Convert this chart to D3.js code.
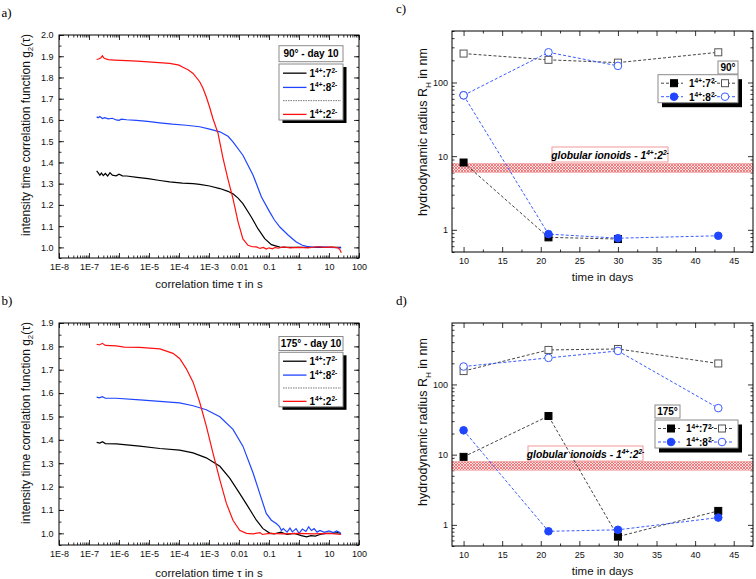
<!DOCTYPE html>
<html><head><meta charset="utf-8">
<script src="https://cdn.jsdelivr.net/npm/d3@7"></script>
<style>
html,body{margin:0;padding:0;background:#fff;}
svg{display:block;font-family:"Liberation Sans",Arial,sans-serif;}
</style></head><body>
<svg id="chart" width="756" height="579"></svg>
<script>
// ---------- DATA ----------
const tauTicks = [1e-8,1e-7,1e-6,1e-5,1e-4,1e-3,0.01,0.1,1,10,100];
const tauTickLabels = ["1E-8","1E-7","1E-6","1E-5","1E-4","1E-3","0.01","0.1","1","10","100"];
const g2TicksA = [1.0,1.1,1.2,1.3,1.4,1.5,1.6,1.7,1.8,1.9,2.0];
const g2TicksB = [1.0,1.1,1.2,1.3,1.4,1.5,1.6,1.7,1.8,1.9];
const dayTicks = [10,15,20,25,30,35,40,45];
const rhTicks = [1,10,100];
const rhTickLabels = ["1","10","100"];

// panel a (90°, day 10): [tau in s, g2]
const a_1_7 = [[1.8e-7,1.36],[2.0e-7,1.352],[2.3e-7,1.34],[2.6e-7,1.35],[3.0e-7,1.338],[3.5e-7,1.348],[4.2e-7,1.336],[5.0e-7,1.352],[6.0e-7,1.34],[8.0e-7,1.337],[1.0e-6,1.345],[1.3e-6,1.337],[1.8e-6,1.336],[4e-6,1.33],[9.3e-6,1.324],[2.3e-5,1.315],[4.9e-5,1.308],[1.3e-4,1.303],[2.95e-4,1.30],[4.9e-4,1.297],[1.05e-3,1.289],[2.3e-3,1.277],[4.3e-3,1.264],[6.3e-3,1.252],[9.3e-3,1.232],[0.0135,1.206],[0.0257,1.143],[0.0427,1.088],[0.072,1.041],[0.12,1.013],[0.23,1.001],[0.5,1.0],[1,1.0],[3,1.0],[10,1.0],[25,1.0]];
const a_1_8 = [[1.8e-7,1.615],[2.0e-7,1.61],[2.3e-7,1.616],[2.8e-7,1.607],[3.3e-7,1.611],[4.4e-7,1.605],[6e-7,1.608],[8.1e-7,1.6],[1.0e-6,1.598],[1.2e-6,1.604],[1.8e-6,1.601],[3.8e-6,1.598],[9e-6,1.593],[2.3e-5,1.586],[6e-5,1.58],[1.74e-4,1.575],[4.9e-4,1.568],[1.05e-3,1.557],[2.3e-3,1.544],[4.3e-3,1.523],[6.3e-3,1.497],[0.0135,1.434],[0.0295,1.34],[0.056,1.237],[0.105,1.167],[0.15,1.13],[0.23,1.096],[0.44,1.057],[0.81,1.025],[1.3,1.01],[1.8,1.005],[3,1.0],[5,1.003],[10,1.0],[20,0.999],[25.7,0.997]];
const a_1_2 = [[1.8e-7,1.885],[2.1e-7,1.887],[2.5e-7,1.893],[2.8e-7,1.902],[3.2e-7,1.89],[4.4e-7,1.884],[7e-7,1.882],[1.8e-6,1.879],[4e-6,1.877],[9.3e-6,1.873],[4.9e-5,1.866],[1.0e-4,1.858],[1.35e-4,1.848],[2.0e-4,1.836],[2.95e-4,1.819],[4.9e-4,1.78],[6.3e-4,1.749],[8.1e-4,1.709],[1.05e-3,1.66],[1.35e-3,1.607],[2.0e-3,1.537],[2.95e-3,1.418],[4.3e-3,1.32],[6.3e-3,1.23],[9.3e-3,1.12],[0.0135,1.04],[0.02,1.01],[0.028,1.003],[0.038,1.002],[0.05,0.995],[0.065,1.0],[0.081,0.992],[0.1,0.998],[0.13,0.993],[0.16,1.0],[0.2,0.996],[0.3,1.002],[0.5,0.998],[1,1.0],[2,0.998],[4,1.003],[7,1.0],[12,1.002],[20,0.998],[23,0.99],[25.7,0.975]];

// panel b (175°, day 10)
const b_1_7 = [[1.8e-7,1.389],[2.3e-7,1.386],[2.8e-7,1.392],[3.5e-7,1.384],[8.1e-7,1.383],[4.9e-6,1.373],[2.3e-5,1.363],[1.05e-4,1.356],[2.95e-4,1.344],[8.1e-4,1.323],[2.3e-3,1.287],[4.9e-3,1.236],[0.0105,1.171],[0.02,1.114],[0.038,1.056],[0.063,1.02],[0.105,1.001],[0.15,0.998],[0.25,1.005],[0.4,0.995],[0.7,1.0],[1.2,0.99],[1.8,0.985],[2.5,0.99],[3.5,0.988],[5,0.995],[8,1.0],[12,1.0],[20,1.003],[25,1.0]];
const b_1_8 = [[1.8e-7,1.583],[2.2e-7,1.58],[2.8e-7,1.585],[3.5e-7,1.578],[8.1e-7,1.578],[4.9e-6,1.571],[2.3e-5,1.565],[1.05e-4,1.558],[2.95e-4,1.546],[8.1e-4,1.529],[2.3e-3,1.499],[6.3e-3,1.445],[0.0135,1.373],[0.0295,1.258],[0.049,1.171],[0.081,1.085],[0.12,1.056],[0.178,1.041],[0.22,1.03],[0.26,1.012],[0.3,1.02],[0.4,1.005],[0.5,1.022],[0.6,1.006],[0.8,1.02],[1,1.0],[1.3,1.018],[1.7,1.008],[2.1,1.028],[2.6,1.012],[3.2,1.02],[4,1.005],[5,1.012],[7,1.004],[10,1.01],[14,1.003],[18,1.01],[22,1.005],[25,0.995]];
const b_1_2 = [[1.8e-7,1.809],[2.2e-7,1.806],[2.8e-7,1.813],[3.5e-7,1.804],[8.1e-7,1.802],[1.5e-6,1.797],[4.9e-6,1.796],[2.3e-5,1.789],[6.3e-5,1.77],[1.05e-4,1.748],[1.74e-4,1.705],[2.95e-4,1.647],[4.9e-4,1.561],[8.1e-4,1.46],[1.35e-3,1.344],[2.3e-3,1.229],[3.8e-3,1.128],[6.3e-3,1.056],[0.0105,1.013],[0.0178,1.0],[0.03,0.998],[0.05,1.003],[0.06,0.995],[0.1,1.0],[0.3,0.998],[1,1.0],[3,0.998],[10,1.0],[25,0.995]];

// panels c, d : hydrodynamic radius (nm) vs days
const days = [10,21,30,43];
const c_77_large = [247,203,186,257];
const c_77_small = [8.2,0.79,0.75,null];
const c_78_large = [67,257,168,null];
const c_78_small = [67,0.875,0.77,0.83];
const d_77_large = [155,310,320,199];
const d_77_small = [9.3,35.5,0.68,1.58];
const d_78_large = [180,239,300,46];
const d_78_small = [22.2,0.81,0.85,1.27];
const ionoidBand = [6.0,8.0];

const legendCurves = [["1","4+",":7","2-"],["1","4+",":8","2-"],null,["1","4+",":2","2-"]];
const legendRH = [["1","4+",":7","2-"],["1","4+",":8","2-"]];
const bandLabel = ["globular ionoids - 1","4+",":2","2-"];

// ---------- DRAW ----------
const FONT = "'Liberation Sans',Arial,sans-serif";
const svg = d3.select("#chart");
const defs = svg.append("defs");
const pat = defs.append("pattern").attr("id","hatch").attr("patternUnits","userSpaceOnUse").attr("width",3).attr("height",3);
pat.append("rect").attr("width",3).attr("height",3).attr("fill","#fcdede");
pat.append("path").attr("d","M0,0L3,3M3,0L0,3").attr("stroke","#e8585c").attr("stroke-width",0.7);

function addAxis(axisFn, scale, transform, vals, size, fmt, pad){
  const a = axisFn(scale).tickValues(vals).tickSize(size).tickPadding(pad||3).tickFormat(fmt || (()=>""));
  const s = svg.append("g").attr("transform", transform).call(a);
  s.select(".domain").remove();
  s.selectAll("line").attr("stroke","#000").attr("stroke-width",0.8);
  s.selectAll("text").attr("font-size",9).attr("font-family",FONT).attr("fill","#111");
  return s;
}
function richText(sel, parts, base, supSize){
  parts.forEach((p,i)=>{
    const sup = i%2===1;
    const t = sel.append("tspan").text(p);
    if(sup){ t.attr("font-size",supSize).attr("dy",-base*0.38); }
    else if(i>0){ t.attr("dy",base*0.38); }
  });
}
function frame(x,y){
  const [x0,x1]=x.range(), [yb,yt]=y.range();
  svg.append("rect").attr("x",x0).attr("y",yt).attr("width",x1-x0).attr("height",yb-yt)
    .attr("fill","none").attr("stroke","#000").attr("stroke-width",1);
}
function logMinors(lo,hi){
  const out=[];
  for(let e=Math.floor(Math.log10(lo));e<=Math.ceil(Math.log10(hi));e++){
    for(let k=2;k<=9;k++){const v=k*Math.pow(10,e); if(v>=lo*0.999&&v<=hi*1.001) out.push(v);}
  }
  return out;
}

function curvePanel(o){
  const x = d3.scaleLog().domain([1e-8,100]).range([59,359]);
  const y = d3.scaleLinear().domain(o.yDom).range([o.bottom,o.top]);
  const xMin = logMinors(1e-8,100);
  const yMin = d3.range(o.yDom[0], o.yDom[1]+1e-9, 0.05).map(v=>+v.toFixed(2));
  addAxis(d3.axisBottom,x,`translate(0,${o.bottom})`,tauTicks,-5,(d,i)=>tauTickLabels[i],6);
  addAxis(d3.axisBottom,x,`translate(0,${o.bottom})`,xMin,-2.5);
  addAxis(d3.axisTop,x,`translate(0,${o.top})`,tauTicks,-5);
  addAxis(d3.axisTop,x,`translate(0,${o.top})`,xMin,-2.5);
  addAxis(d3.axisLeft,y,`translate(59,0)`,o.yTicks,-5,d=>d.toFixed(1),5.5);
  addAxis(d3.axisLeft,y,`translate(59,0)`,yMin,-2.5);
  addAxis(d3.axisRight,y,`translate(359,0)`,o.yTicks,-5);
  addAxis(d3.axisRight,y,`translate(359,0)`,yMin,-2.5);
  const line = d3.line().x(d=>x(d[0])).y(d=>y(d[1]));
  [[o.s17,"#000"],[o.s18,"#1f45ff"],[o.s12,"#ff1010"]].forEach(([s,c])=>{
    svg.append("path").datum(s).attr("d",line).attr("fill","none").attr("stroke",c).attr("stroke-width",1.2);
  });
  frame(x,y);
  // legend
  const L=279, W=64;
  svg.append("rect").attr("x",L).attr("y",o.tY).attr("width",W).attr("height",o.tH).attr("fill","#fff").attr("stroke","#8a8a8a");
  svg.append("text").attr("x",L+W/2).attr("y",o.tY+o.tH/2+3.6).attr("text-anchor","middle").attr("font-weight","bold").attr("font-size",10).text(o.title);
  svg.append("rect").attr("x",L+3.5).attr("y",o.lY+3).attr("width",W).attr("height",o.lH).attr("fill","#000");
  svg.append("rect").attr("x",L).attr("y",o.lY).attr("width",W).attr("height",o.lH).attr("fill","#fff").attr("stroke","#8a8a8a");
  const rows=[9,23,36,49.5], cols=["#000","#1f45ff",null,"#ff1010"];
  legendCurves.forEach((lab,i)=>{
    const ry=o.lY+rows[i]*(o.lH/55);
    if(lab===null){
      svg.append("line").attr("x1",L+4).attr("x2",L+62).attr("y1",ry).attr("y2",ry).attr("stroke","#777").attr("stroke-dasharray","1.5,1").attr("stroke-width",1);
      return;
    }
    svg.append("line").attr("x1",L+4).attr("x2",L+27.5).attr("y1",ry).attr("y2",ry).attr("stroke",cols[i]).attr("stroke-width",1.3);
    const t=svg.append("text").attr("x",L+30.5).attr("y",ry+3.8).attr("font-weight","bold").attr("font-size",10);
    richText(t,lab,10,6.5);
  });
}

function rhPanel(o){
  const x = d3.scaleLinear().domain([8.5,47.5]).range([452,753]);
  const y = d3.scaleLog().domain(o.yDom).range([o.bottom,o.top]);
  const xMin = [12.5,17.5,22.5,27.5,32.5,37.5,42.5];
  const yMin = logMinors(o.yDom[0],o.yDom[1]).filter(v=>![1,10,100].includes(v));
  addAxis(d3.axisBottom,x,`translate(0,${o.bottom})`,dayTicks,-5,d=>d,6);
  addAxis(d3.axisBottom,x,`translate(0,${o.bottom})`,xMin,-2.5);
  addAxis(d3.axisTop,x,`translate(0,${o.top})`,dayTicks,-5);
  addAxis(d3.axisTop,x,`translate(0,${o.top})`,xMin,-2.5);
  addAxis(d3.axisLeft,y,`translate(452,0)`,rhTicks,-5,(d,i)=>rhTickLabels[i],4);
  addAxis(d3.axisLeft,y,`translate(452,0)`,yMin,-2.5);
  addAxis(d3.axisRight,y,`translate(753,0)`,rhTicks,-5);
  addAxis(d3.axisRight,y,`translate(753,0)`,yMin,-2.5);
  // band
  svg.append("rect").attr("x",452).attr("width",301).attr("y",y(ionoidBand[1])).attr("height",y(ionoidBand[0])-y(ionoidBand[1]))
    .attr("fill","url(#hatch)").attr("stroke","#f3a0a0").attr("stroke-width",0.6);
  svg.append("rect").attr("x",o.bx).attr("y",o.by).attr("width",o.bw).attr("height",15).attr("fill","#fff").attr("stroke","#f29a9a");
  const bt=svg.append("text").attr("x",o.bx+o.bw/2).attr("y",o.by+11.5).attr("text-anchor","middle").attr("font-weight","bold").attr("font-style","italic").attr("font-size",10.3);
  richText(bt,bandLabel,10.3,6.6);
  // series
  const ser = [
    {v:o.s77L,c:"#444",m:"sq",f:false},{v:o.s77S,c:"#444",m:"sq",f:true},
    {v:o.s78L,c:"#3a5cff",m:"ci",f:false},{v:o.s78S,c:"#3a5cff",m:"ci",f:true}];
  const pts = v=>days.map((d,i)=>[d,v[i]]);
  const line = d3.line().defined(d=>d[1]!=null).x(d=>x(d[0])).y(d=>y(d[1]));
  ser.forEach(s=>svg.append("path").datum(pts(s.v)).attr("d",line).attr("fill","none").attr("stroke",s.c).attr("stroke-width",1).attr("stroke-dasharray","3,2"));
  const marker=(g,m,f,cx,cy)=>{
    if(m==="sq") g.append("rect").attr("x",cx-3.5).attr("y",cy-3.5).attr("width",7).attr("height",7)
      .attr("fill",f?"#000":"#fff").attr("stroke",f?"#000":"#555").attr("stroke-width",1);
    else g.append("circle").attr("cx",cx).attr("cy",cy).attr("r",3.8)
      .attr("fill",f?"#1f45ff":"#fff").attr("stroke",f?"#1f45ff":"#3a5cff").attr("stroke-width",1);
  };
  [ser[1],ser[3],ser[0],ser[2]].forEach(s=>pts(s.v).filter(d=>d[1]!=null).forEach(d=>marker(svg,s.m,s.f,x(d[0]),y(d[1]))));
  frame(x,y);
  // legend
  svg.append("rect").attr("x",o.tX).attr("y",o.tY).attr("width",o.tW).attr("height",13).attr("fill","#fff").attr("stroke","#8a8a8a");
  svg.append("text").attr("x",o.tX+o.tW/2).attr("y",o.tY+10.3).attr("text-anchor","middle").attr("font-weight","bold").attr("font-size",10).text(o.title);
  const L=o.lX, W=o.lW;
  svg.append("rect").attr("x",L+4).attr("y",o.lY+4.5).attr("width",W).attr("height",28).attr("fill","#000");
  svg.append("rect").attr("x",L).attr("y",o.lY).attr("width",W).attr("height",28).attr("fill","#fff").attr("stroke","#8a8a8a");
  legendRH.forEach((lab,i)=>{
    const ry=o.lY+(i?22:8.5);
    const c=i?"#3a5cff":"#444";
    svg.append("line").attr("x1",L+3).attr("x2",L+25).attr("y1",ry).attr("y2",ry).attr("stroke",c).attr("stroke-dasharray","3,2");
    svg.append("line").attr("x1",L+54).attr("x2",L+77).attr("y1",ry).attr("y2",ry).attr("stroke",c).attr("stroke-dasharray","3,2");
    marker(svg,i?"ci":"sq",true,L+16,ry);
    marker(svg,i?"ci":"sq",false,L+67,ry);
    const t=svg.append("text").attr("x",L+31).attr("y",ry+3.8).attr("font-weight","bold").attr("font-size",10);
    richText(t,lab,10,6.5);
  });
}

curvePanel({yDom:[0.95,2.0],top:35,bottom:258,yTicks:g2TicksA,s17:a_1_7,s18:a_1_8,s12:a_1_2,
  title:"90° - day 10",tY:45.7,tH:16,lY:64,lH:56});
curvePanel({yDom:[0.95,1.9],top:323,bottom:545,yTicks:g2TicksB,s17:b_1_7,s18:b_1_8,s12:b_1_2,
  title:"175° - day 10",tY:336.5,tH:14,lY:352.3,lH:54.5});
rhPanel({yDom:[0.5,500],top:31,bottom:252,s77L:c_77_large,s77S:c_77_small,s78L:c_78_large,s78S:c_78_small,
  bx:552,by:147,bw:116,title:"90°",tX:718,tY:61,tW:20,lX:658,lY:74.7,lW:80});
rhPanel({yDom:[0.5,750],top:323,bottom:546,s77L:d_77_large,s77S:d_77_small,s78L:d_78_large,s78S:d_78_small,
  bx:528,by:446,bw:115,title:"175°",tX:655,tY:405,tW:25,lX:655,lY:420,lW:83});

// axis titles
function yTitle(cx,cy,parts,fs){
  const t=svg.append("text").attr("transform",`translate(${cx},${cy}) rotate(-90)`).attr("text-anchor","middle").attr("font-size",fs).attr("fill","#111");
  parts.forEach((p,i)=>{const s=t.append("tspan").text(p); if(i===1) s.attr("font-size",fs*0.65).attr("dy",fs*0.28); else if(i===2) s.attr("dy",-fs*0.28);});
}
function xTitle(cx,y,txt){svg.append("text").attr("x",cx).attr("y",y).attr("text-anchor","middle").attr("font-size",11.5).attr("fill","#111").text(txt);}
yTitle(29.5,135,["intensity time correlation function g","2","(τ)"],12);
yTitle(29.5,423,["intensity time correlation function g","2","(τ)"],12);
yTitle(427,132,["hydrodynamic radius R","H"," in nm"],12.5);
yTitle(427,422,["hydrodynamic radius R","H"," in nm"],12.5);
xTitle(209,288,"correlation time τ in s");
xTitle(209,576.5,"correlation time τ in s");
xTitle(602.5,281,"time in days");
xTitle(602.5,575,"time in days");
// panel labels
[["a)",1.5,17],["b)",1.5,305],["c)",396,13],["d)",396,305]].forEach(([t,x,y])=>
  svg.append("text").attr("x",x).attr("y",y).attr("font-family","'Liberation Serif','Times New Roman',serif").attr("font-size",13).text(t));
</script>
</body></html>
